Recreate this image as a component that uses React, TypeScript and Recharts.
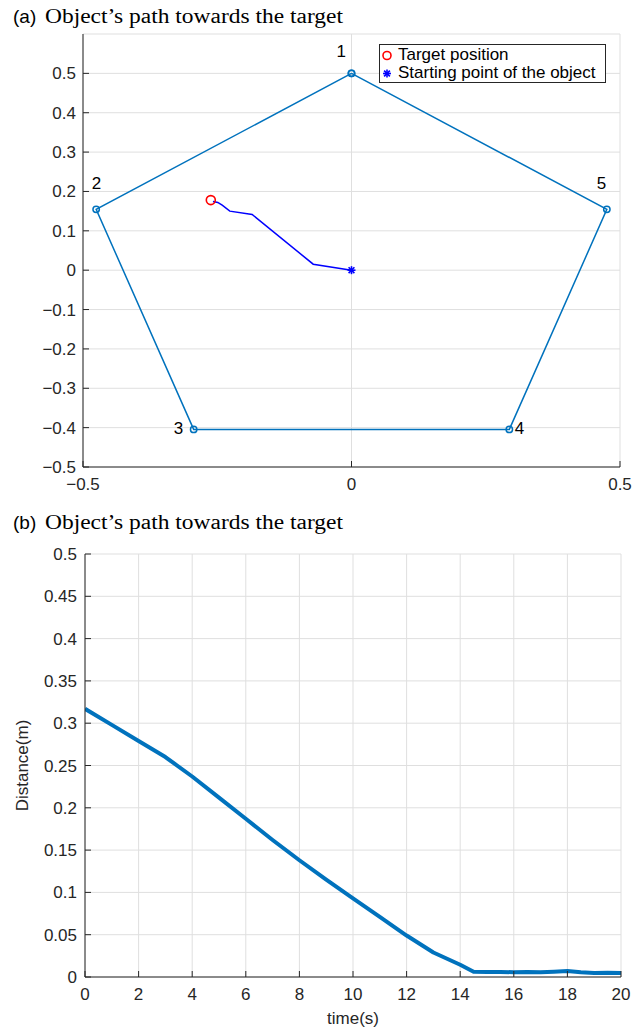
import React from 'react';
import {
  ScatterChart,
  Scatter,
  XAxis,
  YAxis,
  CartesianGrid,
  Legend,
  LineChart,
  Line,
  Label,
} from 'recharts';

// ---------- Data: panel (a) ----------
const vertexX = [0, -0.4755, -0.2939, 0.2939, 0.4755];
const vertexY = [0.5, 0.1545, -0.4045, -0.4045, 0.1545];
const vertexNames = ['1', '2', '3', '4', '5'];
const vertexLabelX = [-0.019, -0.475, -0.322, 0.313, 0.4655];
const vertexLabelY = [0.555, 0.219, -0.402, -0.402, 0.219];

const pathX = [0, -0.0713, -0.185, -0.2266, -0.2408, -0.249, -0.258];
const pathY = [0, 0.0152, 0.1415, 0.15, 0.165, 0.172, 0.1745];

const targetX = [-0.262];
const targetY = [0.178];
const startX = [0];
const startY = [0];

const xTicksA = [-0.5, 0, 0.5];
const yTicksA = [-0.5, -0.4, -0.3, -0.2, -0.1, 0, 0.1, 0.2, 0.3, 0.4, 0.5];
const legendLabels = ['Target position', 'Starting point of the object'];
const titleA = 'Object\u2019s path towards the target';

// ---------- Data: panel (b) ----------
const timeS = [0, 1, 2, 3, 3.3, 4, 5, 6, 7, 8, 9, 10, 11, 12, 13, 14, 14.5, 15, 15.5, 16, 16.5, 17, 17.5, 18, 18.5, 19, 19.5, 20];
const distanceM = [0.317, 0.298, 0.279, 0.26, 0.253, 0.237, 0.212, 0.187, 0.162, 0.138, 0.115, 0.093, 0.071, 0.049, 0.029, 0.0145, 0.0062, 0.0058, 0.006, 0.0056, 0.0058, 0.0055, 0.0062, 0.0072, 0.0056, 0.0048, 0.005, 0.0047];
const xTicksB = [0, 2, 4, 6, 8, 10, 12, 14, 16, 18, 20];
const yTicksB = [0, 0.05, 0.1, 0.15, 0.2, 0.25, 0.3, 0.35, 0.4, 0.45, 0.5];
const titleB = 'Object\u2019s path towards the target';
const xLabelB = 'time(s)';
const yLabelB = 'Distance(m)';

// ---------- Styles ----------
const SANS = '"Liberation Sans", Arial, Helvetica, sans-serif';
const SERIF = '"Liberation Serif", "Times New Roman", serif';
const AXIS = '#262626';
const GRID = '#dfdfdf';
const MBLUE = '#0072BD';
const FS = 17;

const fmt = (v: number) => {
  const s = String(+v.toFixed(2));
  return s.startsWith('-') ? '\u2212' + s.slice(1) : s;
};
const blank = () => '';

const pentagon = [...vertexX, vertexX[0]].map((x, i) => ({ x, y: [...vertexY, vertexY[0]][i] }));
const pathData = pathX.map((x, i) => ({ x, y: pathY[i] }));
const targetData = targetX.map((x, i) => ({ x, y: targetY[i] }));
const startData = startX.map((x, i) => ({ x, y: startY[i] }));
const labelData = vertexLabelX.map((x, i) => ({ x, y: vertexLabelY[i], name: vertexNames[i] }));
const distData = timeS.map((t, i) => ({ t, d: distanceM[i] }));

const tickStyle = { fill: AXIS, fontSize: FS, fontFamily: SANS };

const VertexMarker = (p: any) => (
  <circle cx={p.cx} cy={p.cy} r={3.2} fill="none" stroke={MBLUE} strokeWidth={1.5} />
);
const NoMarker = () => <g />;
const TargetMarker = (p: any) => (
  <circle cx={p.cx} cy={p.cy} r={4.5} fill="none" stroke="#FF0000" strokeWidth={1.6} />
);
const StarMarker = (p: any) => {
  const s = 4;
  const d = 2.9;
  return (
    <g stroke="#0000FF" strokeWidth={1.6}>
      <line x1={p.cx - s} y1={p.cy} x2={p.cx + s} y2={p.cy} />
      <line x1={p.cx} y1={p.cy - s} x2={p.cx} y2={p.cy + s} />
      <line x1={p.cx - d} y1={p.cy - d} x2={p.cx + d} y2={p.cy + d} />
      <line x1={p.cx - d} y1={p.cy + d} x2={p.cx + d} y2={p.cy - d} />
    </g>
  );
};
const VertexText = (p: any) => (
  <text x={p.cx} y={p.cy} textAnchor="middle" dominantBaseline="central" fill="#000" fontSize={FS} fontFamily={SANS}>
    {p.payload.name}
  </text>
);

const LegendBox = () => (
  <div
    style={{
      width: 225,
      height: 37,
      border: '1px solid #262626',
      background: '#fff',
      fontFamily: SANS,
      fontSize: FS,
      color: '#000',
      position: 'relative',
    }}
  >
    <svg width={18} height={37} style={{ position: 'absolute', left: 0, top: 0 }}>
      <circle cx={7} cy={10.5} r={4} fill="none" stroke="#FF0000" strokeWidth={1.6} />
      <StarMarker cx={7} cy={28.5} />
    </svg>
    <div style={{ position: 'absolute', left: 18, top: 0, lineHeight: '19px', whiteSpace: 'nowrap' }}>{legendLabels[0]}</div>
    <div style={{ position: 'absolute', left: 18, top: 18, lineHeight: '19px', whiteSpace: 'nowrap' }}>{legendLabels[1]}</div>
  </div>
);

const Title = ({ letter, text, top }: { letter: string; text: string; top: number }) => (
  <svg width={632} height={30} style={{ position: 'absolute', left: 0, top }}>
    <text x={13} y={22.5} fill="#000">
      <tspan fontFamily={SANS} fontSize={19}>{letter}</tspan>
      <tspan x={45} fontFamily={SERIF} fontSize={20} textLength={298} lengthAdjust="spacingAndGlyphs">
        {text}
      </tspan>
    </text>
  </svg>
);

export default function App() {
  return (
    <div style={{ position: 'absolute', left: 0, top: 0, width: 632, height: 1032, background: '#fff', overflow: 'hidden' }}>
      {/* Panel (a) */}
      <div style={{ position: 'absolute', left: 0, top: 0 }}>
        <ScatterChart width={632} height={515} margin={{ top: 34, right: 12, left: 0, bottom: 18 }}>
          <CartesianGrid stroke={GRID} strokeWidth={1} />
          <XAxis
            xAxisId={0}
            dataKey="x"
            type="number"
            domain={[-0.5, 0.5]}
            ticks={xTicksA}
            tickFormatter={fmt}
            height={30}
            tick={tickStyle}
            tickSize={-6}
            tickMargin={17}
            stroke={AXIS}
            allowDataOverflow
          />
          <YAxis
            yAxisId={0}
            dataKey="y"
            type="number"
            domain={[-0.5, 0.6]}
            ticks={yTicksA}
            tickFormatter={fmt}
            width={83}
            tick={tickStyle}
            tickSize={-6}
            tickMargin={13}
            stroke={AXIS}
            allowDataOverflow
          />
          <XAxis
            xAxisId="top"
            orientation="top"
            type="number"
            domain={[-0.5, 0.5]}
            ticks={xTicksA}
            tickFormatter={blank}
            height={0}
            tickSize={-6}
            stroke={AXIS}
            allowDataOverflow
          />
          <YAxis
            yAxisId="right"
            orientation="right"
            type="number"
            domain={[-0.5, 0.6]}
            ticks={yTicksA}
            tickFormatter={blank}
            width={0}
            tickSize={-6}
            stroke={AXIS}
            allowDataOverflow
          />
          <Scatter
            data={pentagon}
            line={{ stroke: MBLUE, strokeWidth: 1.5 }}
            lineType="joint"
            shape={VertexMarker}
            isAnimationActive={false}
            legendType="none"
          />
          <Scatter
            data={pathData}
            line={{ stroke: '#0000FF', strokeWidth: 1.5 }}
            lineType="joint"
            shape={NoMarker}
            isAnimationActive={false}
            legendType="none"
          />
          <Scatter data={targetData} shape={TargetMarker} isAnimationActive={false} name={legendLabels[0]} />
          <Scatter data={startData} shape={StarMarker} isAnimationActive={false} name={legendLabels[1]} />
          <Scatter data={labelData} shape={VertexText} isAnimationActive={false} legendType="none" />
          <Legend
            layout="horizontal"
            verticalAlign="middle"
            align="center"
            content={LegendBox}
            wrapperStyle={{ left: 379, top: 44, width: 227, height: 39 }}
          />
        </ScatterChart>
      </div>
      <Title letter="(a)" text={titleA} top={0} />

      {/* Panel (b) */}
      <div style={{ position: 'absolute', left: 0, top: 515 }}>
        <LineChart width={632} height={517} data={distData} margin={{ top: 39, right: 11, left: 0, bottom: 25 }}>
          <CartesianGrid stroke={GRID} strokeWidth={1} />
          <XAxis
            xAxisId={0}
            dataKey="t"
            type="number"
            domain={[0, 20]}
            ticks={xTicksB}
            tickFormatter={fmt}
            height={30}
            tick={tickStyle}
            tickSize={-6}
            tickMargin={17}
            stroke={AXIS}
            allowDataOverflow
          >
            <Label
              content={(p: any) => {
                const vb = p.viewBox || { x: 85, y: 462, width: 536, height: 30 };
                return (
                  <text x={vb.x + vb.width / 2} y={vb.y + 41} textAnchor="middle" dominantBaseline="central" fill={AXIS} fontSize={FS} fontFamily={SANS}>
                    {xLabelB}
                  </text>
                );
              }}
            />
          </XAxis>
          <YAxis
            yAxisId={0}
            type="number"
            domain={[0, 0.5]}
            ticks={yTicksB}
            tickFormatter={fmt}
            width={85}
            tick={tickStyle}
            tickSize={-6}
            tickMargin={14}
            stroke={AXIS}
            allowDataOverflow
          >
            <Label
              content={(p: any) => {
                const vb = p.viewBox || { x: 0, y: 39, width: 85, height: 423 };
                const cy = vb.y + vb.height / 2;
                return (
                  <text x={22} y={cy} transform={`rotate(-90 22 ${cy})`} textAnchor="middle" dominantBaseline="central" fill={AXIS} fontSize={FS} fontFamily={SANS}>
                    {yLabelB}
                  </text>
                );
              }}
            />
          </YAxis>
          <XAxis
            xAxisId="top"
            orientation="top"
            type="number"
            domain={[0, 20]}
            ticks={xTicksB}
            tickFormatter={blank}
            height={0}
            tickSize={-6}
            stroke={AXIS}
            allowDataOverflow
          />
          <YAxis
            yAxisId="right"
            orientation="right"
            type="number"
            domain={[0, 0.5]}
            ticks={yTicksB}
            tickFormatter={blank}
            width={0}
            tickSize={-6}
            stroke={AXIS}
            allowDataOverflow
          />
          <Line
            dataKey="d"
            type="linear"
            stroke={MBLUE}
            strokeWidth={4}
            dot={false}
            isAnimationActive={false}
            strokeLinejoin="round"
          />
        </LineChart>
      </div>
      <Title letter="(b)" text={titleB} top={506} />
    </div>
  );
}
